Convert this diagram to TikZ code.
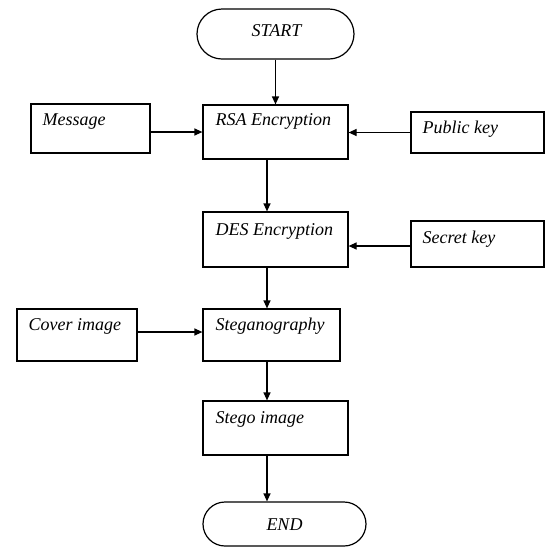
\documentclass[tikz,border=0pt]{standalone}
\usepackage{fontspec}
\setmainfont{Liberation Serif}
\usetikzlibrary{arrows.meta,shapes.misc,calc}
\begin{document}
\begin{tikzpicture}[x=1pt,y=-1pt,
  box/.style={draw,line width=1.2pt,rectangle,inner sep=0pt},
  pill/.style={draw,line width=1.2pt,rounded rectangle,inner sep=0pt},
  txt/.style={font=\fontsize{18}{20}\selectfont\itshape,inner sep=0pt,anchor=base west},
  ctxt/.style={font=\fontsize{18}{20}\selectfont\itshape,inner sep=0pt,anchor=base},
  arr/.style={line width=1.2pt,-{Triangle[length=8pt,width=7pt]}}]
\useasboundingbox (0,0) rectangle (545,550);
% boxes
\node[pill,minimum width=157pt,minimum height=50pt] (start) at (275.5,34) {};
\node[box,minimum width=145pt,minimum height=54pt] (rsa) at (275.5,132) {};
\node[box,minimum width=119pt,minimum height=49pt] (msg) at (90.5,128.5) {};
\node[box,minimum width=133pt,minimum height=41pt] (pub) at (477.5,132.5) {};
\node[box,minimum width=145pt,minimum height=55pt] (des) at (275.5,239.5) {};
\node[box,minimum width=133pt,minimum height=46pt] (sec) at (477.5,244) {};
\node[box,minimum width=120pt,minimum height=52pt] (cov) at (77,335) {};
\node[box,minimum width=137pt,minimum height=52pt] (steg) at (271.5,335) {};
\node[box,minimum width=145pt,minimum height=54pt] (stego) at (275.5,428) {};
\node[pill,minimum width=163pt,minimum height=44pt] (end) at (284.5,524) {};
% texts
\node[ctxt] (tstart) at (276.5,36) {START};
\node[txt] (trsa) at ($(rsa.north west)+(13,21)$) {RSA Encryption};
\node[txt] (tmsg) at ($(msg.north west)+(12,22)$) {Message};
\node[txt] (tpub) at ($(pub.north west)+(12,22)$) {Public key};
\node[txt] (tdes) at ($(des.north west)+(13,24)$) {DES Encryption};
\node[txt] (tsec) at ($(sec.north west)+(12,23)$) {Secret key};
\node[txt] (tcov) at ($(cov.north west)+(12,22)$) {Cover image};
\node[txt] (tsteg) at ($(steg.north west)+(13,22)$) {Steganography};
\node[txt] (tstego) at ($(stego.north west)+(13,23)$) {Stego image};
\node[ctxt] (tend) at (284.5,530) {END};
% connectors
\draw[arr] (start.south) -- (rsa.north);
\draw[arr] (msg.east |- rsa.west) -- (rsa.west);
\draw[arr] (pub.west) -- (pub.west -| rsa.east);
\draw[arr] ([xshift=-8.5pt]rsa.south) -- ([xshift=-8.5pt]des.north);
\draw[arr] ([yshift=-2pt]sec.west) -- ([yshift=-6.5pt]des.east);
\draw[arr] ([xshift=-8.5pt]des.south) -- ([xshift=-4.5pt]steg.north);
\draw[arr] ([yshift=3pt]cov.east) -- ([yshift=3pt]steg.west);
\draw[arr] ([xshift=-4.5pt]steg.south) -- ([xshift=-8.5pt]stego.north);
\draw[arr] ([xshift=-8.5pt]stego.south) -- ([xshift=-17.5pt]end.north);
\end{tikzpicture}
\end{document}
